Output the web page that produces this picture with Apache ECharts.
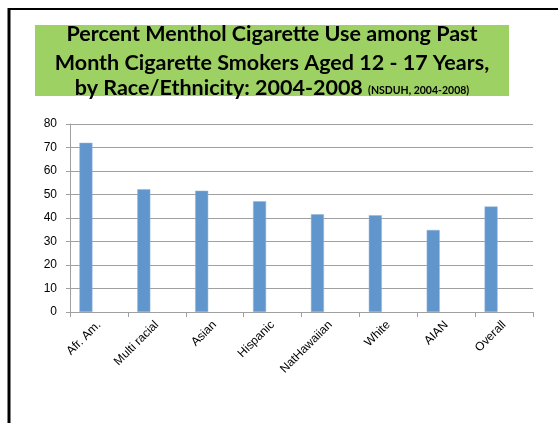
<!DOCTYPE html>
<html>
<head>
<meta charset="utf-8">
<script src="https://cdn.jsdelivr.net/npm/echarts@6/dist/echarts.min.js"></script>
<style>
  html, body { margin: 0; padding: 0; background: #ffffff; }
  #chart { width: 558px; height: 423px; }
</style>
</head>
<body>
<div id="chart"></div>
<script>
// Menthol use among past-month adolescent smokers, NSDUH 2004-2008
const categories = ['Afr. Am.', 'Multi racial', 'Asian', 'Hispanic', 'NatHawaiian', 'White', 'AIAN', 'Overall'];
const mentholPct = [72.0, 52.2, 51.6, 47.1, 41.6, 41.2, 34.9, 44.9];
const yTicks = [0, 10, 20, 30, 40, 50, 60, 70, 80];

const chart = echarts.init(document.getElementById('chart'), null, { renderer: 'canvas' });

const blue = '#6096CC';
// The workbook layout reserves three bar slots per category; only the first holds data.
const emptySlot = categories.map(() => null);
const titleFont = 'bold 21.5px Lato, "Open Sans", sans-serif';

chart.setOption({
  animation: false,
  backgroundColor: '#ffffff',
  grid: { left: 70, right: 25, top: 124, bottom: 111 },
  graphic: [
    { type: 'line', shape: { x1: 9, y1: 9, x2: 560, y2: 9 }, style: { stroke: '#000', lineWidth: 2 }, z: 100 },
    { type: 'line', shape: { x1: 9, y1: 8, x2: 9, y2: 425 }, style: { stroke: '#000', lineWidth: 3 }, z: 100 },
    { type: 'rect', shape: { x: 35, y: 25, width: 474, height: 71 }, style: { fill: '#9ED164' }, z: -1 },
    {
      type: 'text', x: 272, y: 20, z: 10,
      style: {
        text: 'Percent Menthol Cigarette Use among Past\nMonth Cigarette Smokers Aged 12 - 17 Years,',
        font: titleFont,
        fill: '#000', textAlign: 'center', textVerticalAlign: 'top', lineHeight: 28.5
      }
    },
    {
      type: 'text', x: 272, y: 77, z: 10,
      style: {
        text: '{a|by Race/Ethnicity: 2004-2008 }{b|(NSDUH, 2004-2008)}',
        fill: '#000', textAlign: 'center', textVerticalAlign: 'top',
        rich: {
          a: { font: titleFont, fill: '#000' },
          b: { font: 'bold 10.5px Lato, "Open Sans", sans-serif', fill: '#000', padding: [6, 0, 0, 0] }
        }
      }
    }
  ],
  xAxis: {
    type: 'category',
    data: categories,
    axisLine: { lineStyle: { color: '#A0A0A0', width: 1 } },
    axisTick: { show: true, alignWithLabel: false, length: 5, lineStyle: { color: '#A0A0A0' } },
    axisLabel: {
      rotate: 45, interval: 0, margin: 11,
      fontFamily: '"Liberation Sans", Arial, sans-serif', fontSize: 12, color: '#000'
    }
  },
  yAxis: {
    type: 'value',
    min: yTicks[0], max: yTicks[yTicks.length - 1], interval: 10,
    axisLine: { show: true, lineStyle: { color: '#A0A0A0' } },
    axisTick: { show: true, length: 4, lineStyle: { color: '#A0A0A0' } },
    axisLabel: { fontFamily: '"Liberation Sans", Arial, sans-serif', fontSize: 12, color: '#000', margin: 13 },
    splitLine: { lineStyle: { color: '#A0A0A0', width: 1 } }
  },
  series: [
    { type: 'bar', data: mentholPct, barWidth: 13, barGap: '0%',
      itemStyle: { color: blue, borderColor: '#8DB4DE', borderWidth: 0.5 } },
    { type: 'bar', data: emptySlot, barWidth: 13, barGap: '0%' },
    { type: 'bar', data: emptySlot, barWidth: 13, barGap: '0%' }
  ]
});
</script>
</body>
</html>
